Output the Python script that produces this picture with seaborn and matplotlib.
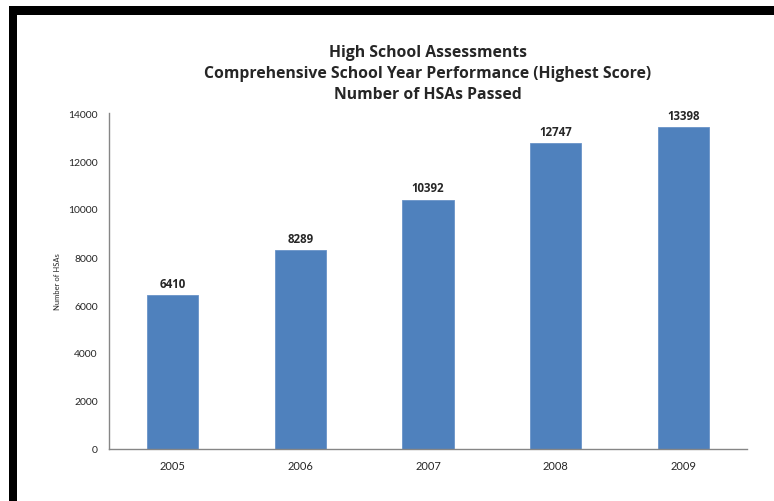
import matplotlib
matplotlib.use("Agg")
import matplotlib.pyplot as plt
import seaborn as sns
import pandas as pd
from matplotlib.patches import Rectangle

years = ["2005", "2006", "2007", "2008", "2009"]
passed = [6410, 8289, 10392, 12747, 13398]
yticks = [0, 2000, 4000, 6000, 8000, 10000, 12000, 14000]
title = "High School Assessments\nComprehensive School Year Performance (Highest Score)\nNumber of HSAs Passed"
ylabel = "Number of HSAs"

sns.set_style("white")
plt.rcParams['font.family'] = ['Lato', 'DejaVu Sans']

df = pd.DataFrame({"year": years, "passed": passed})

W, H = 774, 502
fig = plt.figure(figsize=(W/100, H/100), dpi=100)
ax = fig.add_axes([109/W, (H-450)/H, (747-109)/W, (450-114)/H])

sns.barplot(data=df, x="year", y="passed", color="#4F81BD", saturation=1,
            width=0.4, edgecolor="#6A93C8", linewidth=0.6, ax=ax)

ax.set_xlim(-0.5, 4.5)
ax.set_ylim(0, 14000)
ax.set_yticks(yticks)
ax.set_yticklabels([str(t) for t in yticks], fontsize=7.5)
ax.tick_params(axis='x', labelsize=8, length=0, pad=8)
ax.tick_params(axis='y', length=0, pad=8)
ax.set_xlabel("")
ax.set_ylabel(ylabel, fontsize=5.5, labelpad=5)

for s in ["top", "right"]:
    ax.spines[s].set_visible(False)
for s in ["left", "bottom"]:
    ax.spines[s].set_color("#868686")
    ax.spines[s].set_linewidth(1)

for i, v in enumerate(passed):
    ax.text(i, v + 230, str(v), ha="center", va="bottom", fontsize=8.3,
            fontweight="bold", family=["Open Sans", "DejaVu Sans"])

fig.text((109+747)/2/W, (H-45)/H, title, ha="center", va="top", fontsize=11.3,
         fontweight="bold", linespacing=1.4, family=["Open Sans", "DejaVu Sans"])

# black frame (top and left)
fig.patches.append(Rectangle((9/W, (H-16)/H), (W-9)/W, 9/H, transform=fig.transFigure,
                             facecolor="black", edgecolor="none"))
fig.patches.append(Rectangle((9/W, 0), 8/W, (H-7)/H, transform=fig.transFigure,
                             facecolor="black", edgecolor="none"))

fig.savefig("out.png", dpi=100)
